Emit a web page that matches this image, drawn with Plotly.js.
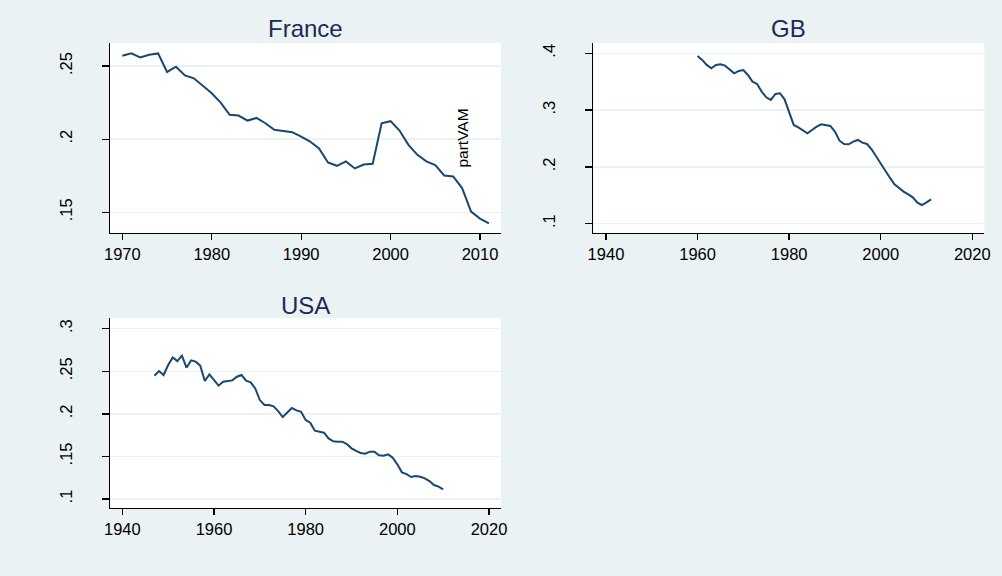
<!DOCTYPE html>
<html>
<head>
<meta charset="utf-8">
<script src="https://cdn.plot.ly/plotly-3.0.1.min.js"></script>
<style>
html,body{margin:0;padding:0;background:#eaf2f3;}
#chart{width:1002px;height:576px;}
</style>
</head>
<body>
<div id="chart"></div>
<script>
// ---- data ----
const franceYears = [1970,1971,1972,1973,1974,1975,1976,1977,1978,1979,1980,1981,1982,1983,1984,1985,1986,1987,1988,1989,1990,1991,1992,1993,1994,1995,1996,1997,1998,1999,2000,2001,2002,2003,2004,2005,2006,2007,2008,2009,2010,2011];
const franceValues = [0.2570,0.2586,0.2559,0.2577,0.2586,0.2459,0.2495,0.2436,0.2416,0.2368,0.2314,0.2250,0.2166,0.2161,0.2127,0.2145,0.2109,0.2064,0.2055,0.2048,0.2018,0.1984,0.1936,0.1841,0.1818,0.1848,0.1800,0.1827,0.1832,0.2109,0.2123,0.2059,0.1961,0.1893,0.1848,0.1823,0.1752,0.1745,0.1666,0.1505,0.1457,0.1425];

const gbYears = [1960,1961,1962,1963,1964,1965,1966,1967,1968,1969,1970,1971,1972,1973,1974,1975,1976,1977,1978,1979,1980,1981,1982,1983,1984,1985,1986,1987,1988,1989,1990,1991,1992,1993,1994,1995,1996,1997,1998,1999,2000,2001,2002,2003,2004,2005,2006,2007,2008,2009,2010,2011];
const gbValues = [0.3953,0.3883,0.3795,0.3736,0.3795,0.3806,0.3783,0.3718,0.3648,0.3689,0.3706,0.3618,0.3501,0.3460,0.3325,0.3225,0.3178,0.3284,0.3296,0.3190,0.2973,0.2738,0.2697,0.2638,0.2591,0.2650,0.2709,0.2750,0.2738,0.2720,0.2620,0.2461,0.2403,0.2397,0.2444,0.2474,0.2427,0.2403,0.2309,0.2180,0.2063,0.1946,0.1810,0.1693,0.1623,0.1564,0.1517,0.1464,0.1371,0.1329,0.1376,0.1429];

const usaYears = [1947,1948,1949,1950,1951,1952,1953,1954,1955,1956,1957,1958,1959,1960,1961,1962,1963,1964,1965,1966,1967,1968,1969,1970,1971,1972,1973,1974,1975,1976,1977,1978,1979,1980,1981,1982,1983,1984,1985,1986,1987,1988,1989,1990,1991,1992,1993,1994,1995,1996,1997,1998,1999,2000,2001,2002,2003,2004,2005,2006,2007,2008,2009,2010];
const usaValues = [0.2448,0.2503,0.2456,0.2573,0.2663,0.2620,0.2683,0.2542,0.2628,0.2613,0.2566,0.2386,0.2464,0.2397,0.2331,0.2378,0.2389,0.2393,0.2436,0.2456,0.2389,0.2370,0.2299,0.2162,0.2104,0.2104,0.2088,0.2033,0.1963,0.2018,0.2068,0.2041,0.2025,0.1928,0.1896,0.1802,0.1791,0.1779,0.1712,0.1677,0.1673,0.1673,0.1646,0.1595,0.1564,0.1540,0.1532,0.1556,0.1556,0.1513,0.1509,0.1524,0.1485,0.1407,0.1313,0.1293,0.1258,0.1270,0.1262,0.1243,0.1211,0.1164,0.1145,0.1113];

const panelTitles = ["France","GB","USA"];
const yLabelText = "partVAM";

const franceXTicks = [1970,1980,1990,2000,2010];
const wideXTicks = [1940,1960,1980,2000,2020];
const franceYTicks = [0.15,0.2,0.25];
const franceYTickText = [".15",".2",".25"];
const gbYTicks = [0.1,0.2,0.3,0.4];
const gbYTickText = [".1",".2",".3",".4"];
const usaYTicks = [0.1,0.15,0.2,0.25,0.3];
const usaYTickText = [".1",".15",".2",".25",".3"];

// ---- styles ----
const lineColor = "#1a476f";
const bg = "#eaf2f3";
const font = "Liberation Sans, Arial, sans-serif";

function trace(x, y, xa, ya) {
  return {x: x, y: y, xaxis: xa, yaxis: ya, type: "scatter", mode: "lines",
    line: {color: lineColor, width: 2}, hoverinfo: "skip", showlegend: false};
}

function xAxis(domain, range, ticks, anchor) {
  return {domain: domain, range: range, anchor: anchor, tickmode: "array", tickvals: ticks,
    showgrid: false, zeroline: false, showline: true, linecolor: "#000", linewidth: 1.3,
    ticks: "outside", ticklen: 6, tickwidth: 1.3, tickcolor: "#000",
    tickfont: {family: font, size: 16.5, color: "#000"}};
}
function yAxis(domain, range, ticks, text, anchor) {
  return {domain: domain, range: range, anchor: anchor, tickmode: "array", tickvals: ticks, ticktext: text,
    showgrid: true, gridcolor: bg, gridwidth: 1.5, zeroline: false, showline: true, linecolor: "#000", linewidth: 1.3,
    ticks: "outside", ticklen: 7, tickwidth: 1.3, tickcolor: "#000", tickangle: -90,
    ticklabelstandoff: 23,
    tickfont: {family: font, size: 16.5, color: "#000"}};
}

const W = 1002, H = 576;
const dFx = [110/W, 501/W], dGx = [593.3/W, 984.3/W];
const dTopY = [1-233/H, 1-43/H], dBotY = [1-507.7/H, 1-318.3/H];

const data = [
  trace(franceYears, franceValues, "x", "y"),
  trace(gbYears, gbValues, "x2", "y2"),
  trace(usaYears, usaValues, "x3", "y3")
];

function titleAnn(text, dom, yPix) {
  return {text: text, xref: "paper", yref: "paper", x: (dom[0]+dom[1])/2, y: 1 - yPix/H,
    xanchor: "center", yanchor: "middle", showarrow: false,
    font: {family: font, size: 24, color: "#1e2a55"}};
}

const layout = {
  width: W, height: H,
  margin: {l: 0, r: 0, t: 0, b: 0},
  paper_bgcolor: bg, plot_bgcolor: "#ffffff",
  showlegend: false,
  xaxis: xAxis(dFx, [1968.62, 2012.35], franceXTicks, "y"),
  yaxis: yAxis(dTopY, [0.1359, 0.2657], franceYTicks, franceYTickText, "x"),
  xaxis2: xAxis(dGx, [1937.23, 2022.62], wideXTicks, "y2"),
  yaxis2: yAxis(dTopY, [0.0836, 0.4181], gbYTicks, gbYTickText, "x2"),
  xaxis3: xAxis(dFx, [1937.31, 2022.62], wideXTicks, "y3"),
  yaxis3: yAxis(dBotY, [0.0898, 0.3122], usaYTicks, usaYTickText, "x3"),
  annotations: [
    titleAnn(panelTitles[0], dFx, 29),
    titleAnn(panelTitles[1], dGx, 29),
    titleAnn(panelTitles[2], dFx, 305.5),
    {text: yLabelText, xref: "x", yref: "y", x: 2008, y: 0.2005, textangle: -90,
     showarrow: false, xanchor: "center", yanchor: "middle",
     font: {family: font, size: 15.5, color: "#000"}}
  ]
};

Plotly.newPlot("chart", data, layout, {displayModeBar: false, staticPlot: true});
</script>
</body>
</html>
